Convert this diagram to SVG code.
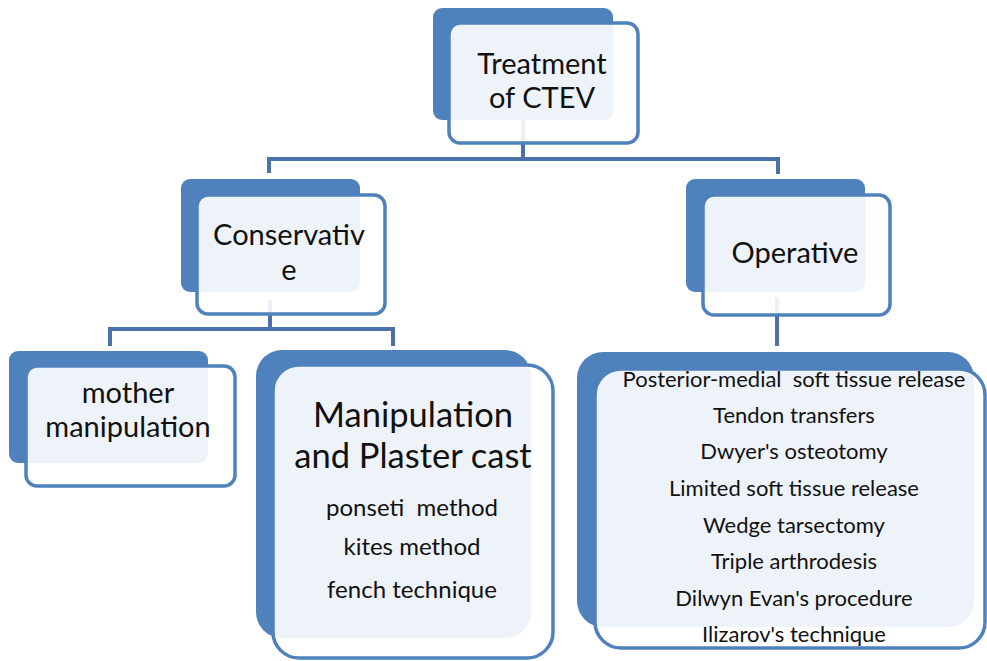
<svg xmlns="http://www.w3.org/2000/svg" width="987" height="661" viewBox="0 0 987 661">
<style>
.back{fill:#4F81BD;}
.front{fill:#ffffff;fill-opacity:0.9;stroke:#4F81BD;stroke-width:3.5;}
.conn{fill:none;stroke:#4A72A8;stroke-width:4;}
text{font-family:Lato,"Liberation Sans",sans-serif;fill:#111;text-anchor:middle;}
.t1{font-size:29px;}
.t2{font-size:34.5px;}
.t3{font-size:24px;}
.t4{font-size:22px;}
</style>
<rect width="987" height="661" fill="#ffffff"/>
<g id="connectors">
<path class="conn" d="M523,120 V159 M269,173 V159 H778 V174"/>
<path class="conn" d="M270,300 V329 M110,346 V329 H393 V346"/>
<path class="conn" d="M777,297 V346"/>
</g>
<g id="treatment">
<rect class="back" x="433" y="8" width="180" height="112" rx="9"/>
<rect class="front" x="449" y="23" width="189" height="120" rx="11"/>
<text class="t1" x="542" y="74">Treatment</text>
<text class="t1" x="542" y="108">of CTEV</text>
</g>
<g id="conservative">
<rect class="back" x="181" y="179" width="179" height="113" rx="9"/>
<rect class="front" x="197" y="195" width="188" height="119" rx="11"/>
<text class="t1" x="289" y="245">Conservativ</text>
<text class="t1" x="289" y="280">e</text>
</g>
<g id="operative">
<rect class="back" x="686" y="179" width="179" height="113" rx="9"/>
<rect class="front" x="703" y="195" width="187" height="120" rx="11"/>
<text class="t1" x="795" y="263">Operative</text>
</g>
<g id="mother">
<rect class="back" x="9" y="351" width="199" height="112" rx="9"/>
<rect class="front" x="26" y="366" width="209" height="120" rx="11"/>
<text class="t1" x="128" y="403">mother</text>
<text class="t1" x="128" y="437">manipulation</text>
</g>
<g id="plaster">
<rect class="back" x="256" y="350" width="275" height="288" rx="26"/>
<rect class="front" x="273" y="365" width="280" height="293" rx="26"/>
<text class="t2" x="413" y="427">Manipulation</text>
<text class="t2" x="413" y="468">and Plaster cast</text>
<text class="t3" x="412" y="516" xml:space="preserve">ponseti  method</text>
<text class="t3" x="412" y="555">kites method</text>
<text class="t3" x="412" y="598">fench technique</text>
</g>
<g id="operative-list">
<rect class="back" x="577" y="352" width="397" height="275" rx="26"/>
<rect class="front" x="595" y="369" width="390" height="279" rx="26"/>
<text class="t4" x="794" y="387" xml:space="preserve">Posterior-medial  soft tissue release</text>
<text class="t4" x="794" y="423">Tendon transfers</text>
<text class="t4" x="794" y="459">Dwyer's osteotomy</text>
<text class="t4" x="794" y="496">Limited soft tissue release</text>
<text class="t4" x="794" y="533">Wedge tarsectomy</text>
<text class="t4" x="794" y="569">Triple arthrodesis</text>
<text class="t4" x="794" y="606">Dilwyn Evan's procedure</text>
<text class="t4" x="794" y="642">Ilizarov's technique</text>
</g>
</svg>
